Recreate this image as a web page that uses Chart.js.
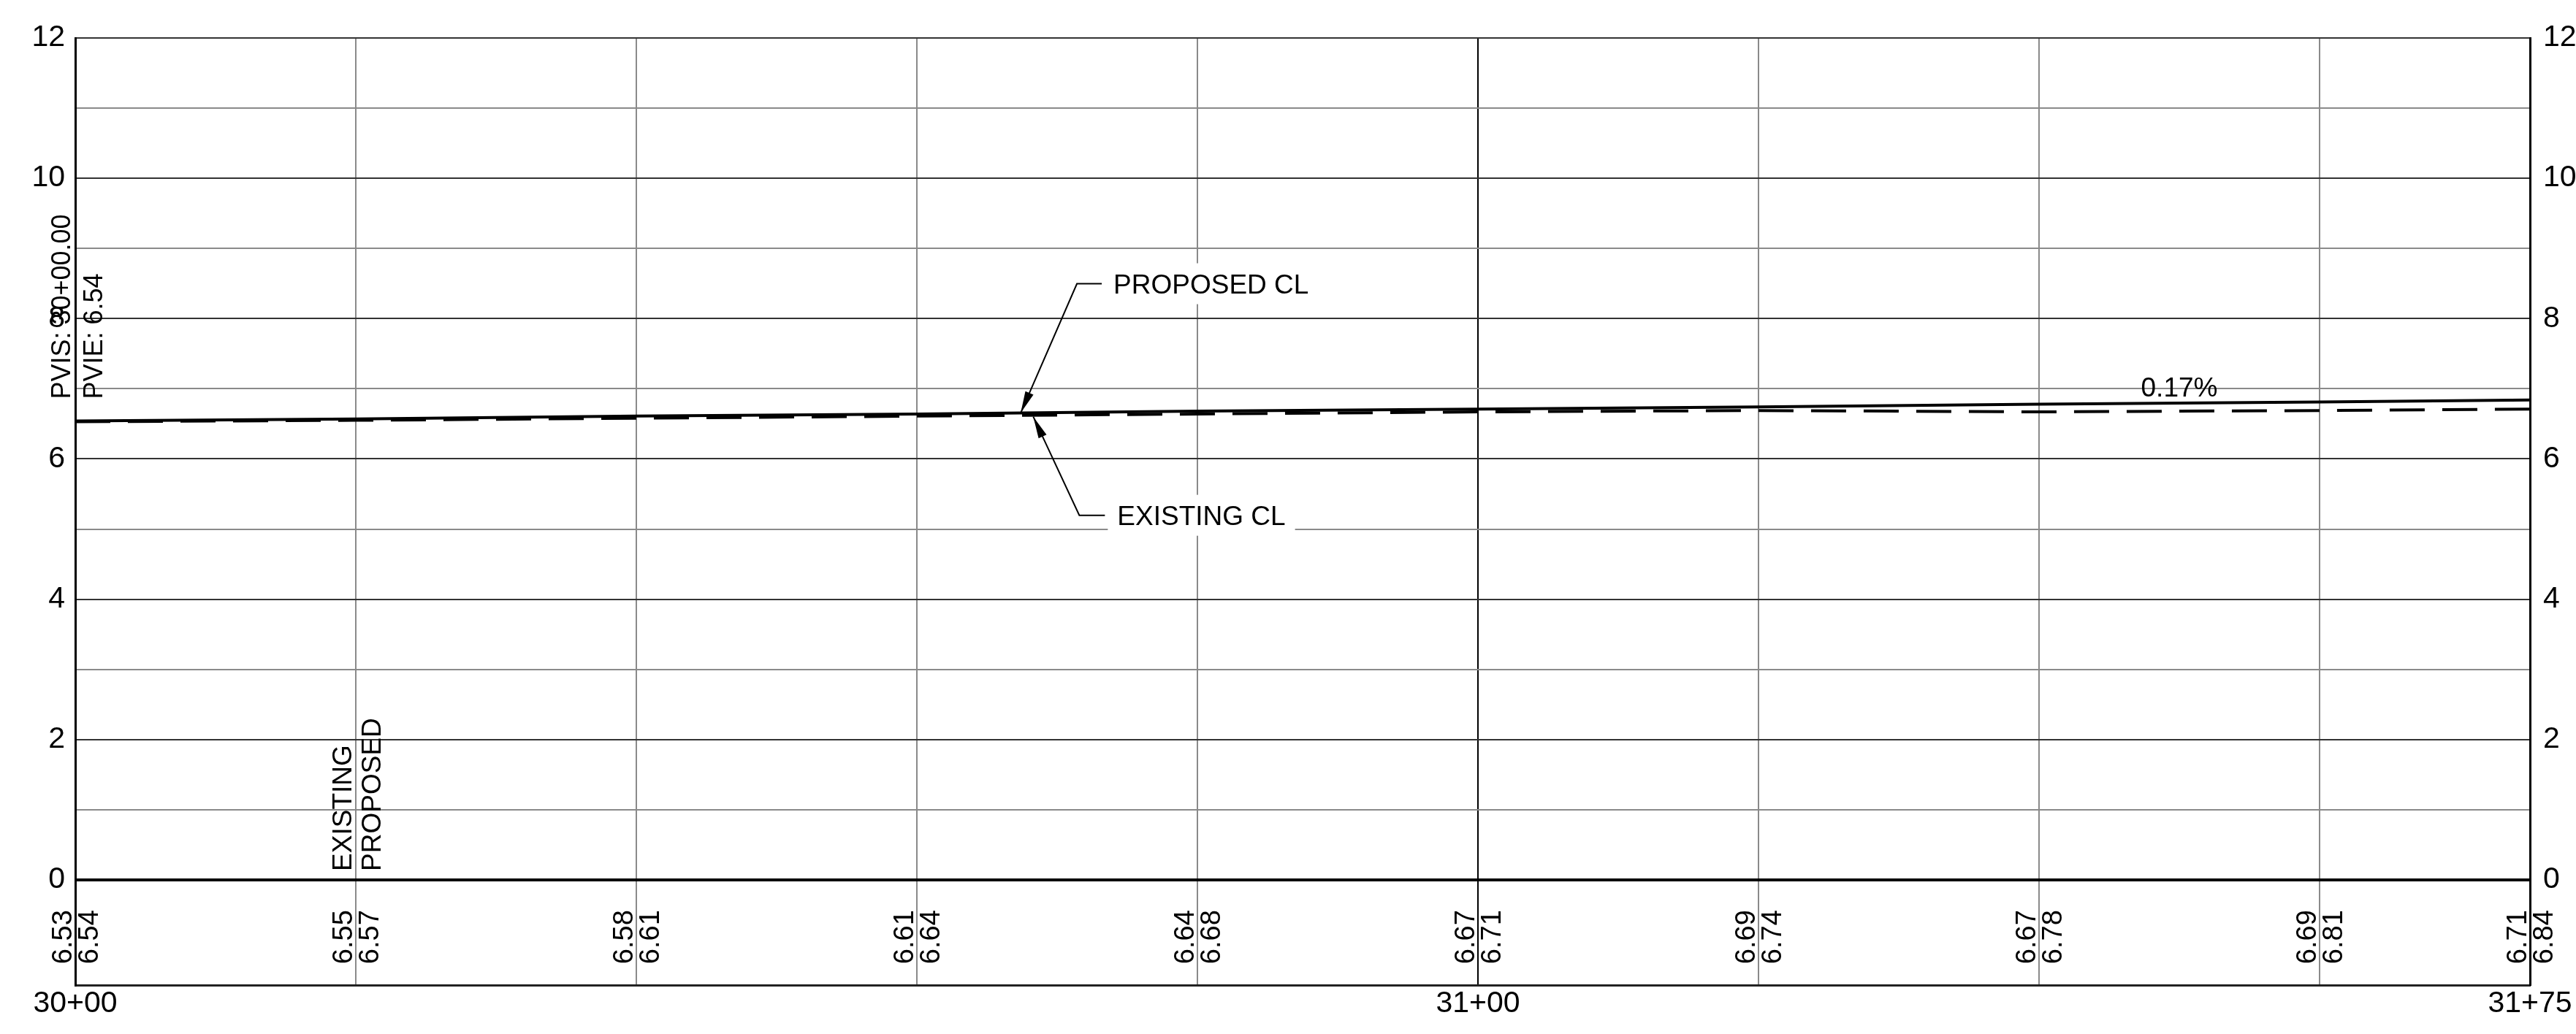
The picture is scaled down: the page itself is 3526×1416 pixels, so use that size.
<!DOCTYPE html>
<html>
<head>
<meta charset="utf-8">
<script src="https://cdn.jsdelivr.net/npm/chart.js@4"></script>
<style>
  html, body { margin: 0; padding: 0; background: #fff; }
  canvas { display: block; }
</style>
</head>
<body>
<canvas id="profileChart" width="3526" height="1416"></canvas>
<script>
// station values (feet), every 20 ft plus the end station
var stations = [3000, 3020, 3040, 3060, 3080, 3100, 3120, 3140, 3160, 3175];
var existingElev = [6.53, 6.55, 6.58, 6.61, 6.64, 6.67, 6.69, 6.67, 6.69, 6.71];
var proposedElev = [6.54, 6.57, 6.61, 6.64, 6.68, 6.71, 6.74, 6.78, 6.81, 6.84];
var stationTickLabels = { 3000: "30+00", 3100: "31+00", 3175: "31+75" };
var elevTicks = [0, 1, 2, 3, 4, 5, 6, 7, 8, 9, 10, 11, 12];

var gradeText = "0.17%";
var pviStaText = "PVIS: 30+00.00";
var pviElevText = "PVIE: 6.54";

var FONT = "'Liberation Sans', Arial, sans-serif";

function toPoints(elev) {
    var pts = [];
    for (var i = 0; i < stations.length; i++) {
        pts.push({ x: stations[i], y: elev[i] });
    }
    return pts;
}

// elevation at a station along a series (linear between points)
function elevAt(elev, sta) {
    for (var i = 0; i < stations.length - 1; i++) {
        if (sta >= stations[i] && sta <= stations[i + 1]) {
            var t = (sta - stations[i]) / (stations[i + 1] - stations[i]);
            return elev[i] + t * (elev[i + 1] - elev[i]);
        }
    }
    return elev[elev.length - 1];
}

function vText(ctx, text, x, y, baseline) {
    ctx.save();
    ctx.translate(x, y);
    ctx.rotate(-Math.PI / 2);
    ctx.textAlign = "left";
    ctx.textBaseline = baseline || "alphabetic";
    ctx.fillText(text, 0, 0);
    ctx.restore();
}

function arrowHead(ctx, fromX, fromY, tipX, tipY) {
    var ang = Math.atan2(tipY - fromY, tipX - fromX);
    var len = 30, half = 6;
    ctx.beginPath();
    ctx.moveTo(tipX, tipY);
    ctx.lineTo(tipX - len * Math.cos(ang) + half * Math.sin(ang), tipY - len * Math.sin(ang) - half * Math.cos(ang));
    ctx.lineTo(tipX - len * Math.cos(ang) - half * Math.sin(ang), tipY - len * Math.sin(ang) + half * Math.cos(ang));
    ctx.closePath();
    ctx.fill();
}

function callout(ctx, text, tipX, tipY, kneeX, kneeY, endX, textX) {
    ctx.font = "37px " + FONT;
    var w = ctx.measureText(text).width;
    // white mask behind the text
    ctx.fillStyle = "#fff";
    ctx.fillRect(textX - 13, kneeY - 28, w + 26, 56);
    ctx.strokeStyle = "#000";
    ctx.lineWidth = 2;
    ctx.beginPath();
    ctx.moveTo(tipX, tipY);
    ctx.lineTo(kneeX, kneeY);
    ctx.lineTo(endX, kneeY);
    ctx.stroke();
    ctx.fillStyle = "#000";
    arrowHead(ctx, kneeX, kneeY, tipX, tipY);
    ctx.textAlign = "left";
    ctx.textBaseline = "alphabetic";
    ctx.fillText(text, textX, kneeY + 13);
}

var profileLabels = {
    id: "profileLabels",
    afterDraw: function (chart) {
        var ctx = chart.ctx;
        var xs = chart.scales.x;
        var ys = chart.scales.y;
        ctx.save();
        ctx.fillStyle = "#000";

        // elevation table below the grade line
        ctx.font = "38px " + FONT;
        var rowY = ys.getPixelForValue(-1.2);
        for (var i = 0; i < stations.length; i++) {
            var gx = xs.getPixelForValue(stations[i]);
            vText(ctx, existingElev[i].toFixed(2), gx - 5, rowY, "alphabetic");
            vText(ctx, proposedElev[i].toFixed(2), gx + 31, rowY, "alphabetic");
        }

        // row titles
        ctx.font = "37px " + FONT;
        var gx2 = xs.getPixelForValue(stations[1]);
        var y0 = ys.getPixelForValue(0);
        vText(ctx, "EXISTING", gx2 - 6, y0 - 12, "alphabetic");
        vText(ctx, "PROPOSED", gx2 + 34, y0 - 12, "alphabetic");

        // PVI labels at the start station
        ctx.font = "36px " + FONT;
        var sx = xs.getPixelForValue(stations[0]);
        var sy = ys.getPixelForValue(proposedElev[0]) - 30;
        vText(ctx, pviStaText, sx - 7, sy, "alphabetic");
        vText(ctx, pviElevText, sx + 37, sy, "alphabetic");

        // grade label
        ctx.font = "37px " + FONT;
        ctx.textAlign = "center";
        ctx.textBaseline = "alphabetic";
        ctx.fillText(gradeText, xs.getPixelForValue(3150), ys.getPixelForValue(elevAt(proposedElev, 3150)) - 9);

        // callouts
        var pTipX = xs.getPixelForValue(3067.4);
        var pTipY = ys.getPixelForValue(elevAt(proposedElev, 3067.4));
        callout(ctx, "PROPOSED CL", pTipX, pTipY, pTipX + 77, pTipY - 177, pTipX + 111, pTipX + 127);
        var eTipX = xs.getPixelForValue(3068.3);
        var eTipY = ys.getPixelForValue(elevAt(existingElev, 3068.3)) + 2;
        callout(ctx, "EXISTING CL", eTipX, eTipY, eTipX + 63, eTipY + 135, eTipX + 98, eTipX + 115);

        ctx.restore();
    }
};

var ctx = document.getElementById("profileChart").getContext("2d");

var elevTickCb = function (value) {
    return (value % 2 === 0 && value >= 0) ? String(value) : "";
};

var profileChart = new Chart(ctx, {
    type: "line",
    data: {
        datasets: [
            {
                label: "Proposed CL",
                data: toPoints(proposedElev),
                borderColor: "#000",
                borderWidth: 4,
                pointRadius: 0,
                tension: 0,
                fill: false
            },
            {
                label: "Existing CL",
                data: toPoints(existingElev),
                borderColor: "#000",
                borderWidth: 4,
                borderDash: [48, 24],
                pointRadius: 0,
                tension: 0,
                fill: false
            }
        ]
    },
    options: {
        responsive: false,
        animation: false,
        devicePixelRatio: 1,
        layout: { padding: { top: 52, left: 0, right: 0, bottom: 0 } },
        plugins: {
            legend: { display: false },
            tooltip: { enabled: false }
        },
        scales: {
            x: {
                type: "linear",
                min: 3000,
                max: 3175,
                afterBuildTicks: function (scale) {
                    scale.ticks = stations.map(function (s) { return { value: s }; });
                },
                afterFit: function (scale) { scale.height = 67; },
                ticks: {
                    autoSkip: false,
                    maxRotation: 0,
                    padding: 1,
                    color: "#000",
                    font: { family: FONT, size: 41 },
                    callback: function (value) { return stationTickLabels[value] || ""; }
                },
                grid: {
                    drawTicks: false,
                    lineWidth: 2,
                    color: function (c) { return c.tick && c.tick.value === 3100 ? "#000" : "#8a8a8a"; }
                },
                border: { display: true, color: "#222", width: 3 }
            },
            y: {
                type: "linear",
                position: "left",
                min: -1.5,
                max: 12,
                afterBuildTicks: function (scale) {
                    scale.ticks = elevTicks.map(function (v) { return { value: v }; });
                },
                afterFit: function (scale) { scale.width = 103; },
                ticks: {
                    autoSkip: false,
                    padding: 14,
                    color: "#000",
                    font: { family: FONT, size: 41 },
                    callback: elevTickCb
                },
                grid: {
                    drawTicks: false,
                    lineWidth: function (c) { return c.tick && c.tick.value === 0 ? 4 : 2; },
                    color: function (c) {
                        var v = c.tick ? c.tick.value : 1;
                        if (v === 0) return "#000";
                        return v % 2 === 0 ? "#333" : "#8a8a8a";
                    }
                },
                border: { display: true, color: "#000", width: 3 }
            },
            y2: {
                type: "linear",
                position: "right",
                min: -1.5,
                max: 12,
                afterBuildTicks: function (scale) {
                    scale.ticks = elevTicks.map(function (v) { return { value: v }; });
                },
                afterFit: function (scale) { scale.width = 63; },
                ticks: {
                    autoSkip: false,
                    padding: 18,
                    color: "#000",
                    font: { family: FONT, size: 41 },
                    callback: elevTickCb
                },
                grid: { display: false, drawTicks: false },
                border: { display: true, color: "#000", width: 3 }
            }
        }
    },
    plugins: [profileLabels]
});
</script>
</body>
</html>
